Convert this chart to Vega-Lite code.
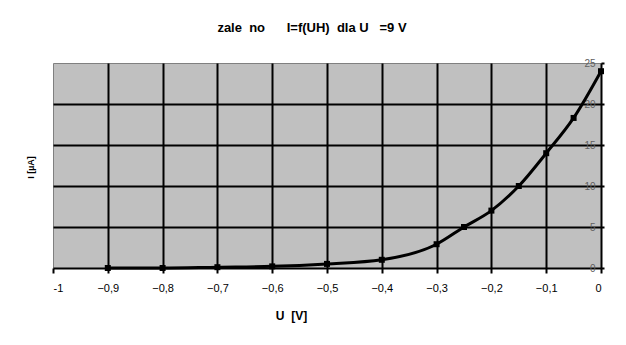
{
  "$schema": "https://vega.github.io/schema/vega-lite/v6.json",
  "width": 548,
  "height": 205,
  "autosize": {"type": "none"},
  "padding": {"left": 53, "top": 63, "right": 25, "bottom": 77},
  "background": "white",
  "title": {
    "text": "zale\u00a0\u00a0no\u00a0\u00a0\u00a0\u00a0\u00a0\u00a0I=f(UH)\u00a0\u00a0dla\u00a0U\u00a0\u00a0\u00a0=9\u00a0V",
    "font": "Liberation Sans",
    "fontSize": 13,
    "fontWeight": "bold",
    "color": "black",
    "dx": -15,
    "offset": 23
  },
  "data": {
    "values": [
      {"u": -0.9, "i": 0},
      {"u": -0.8, "i": 0},
      {"u": -0.7, "i": 0.1},
      {"u": -0.6, "i": 0.2},
      {"u": -0.5, "i": 0.5},
      {"u": -0.4, "i": 1},
      {"u": -0.3, "i": 2.9},
      {"u": -0.25, "i": 5},
      {"u": -0.2, "i": 7},
      {"u": -0.15, "i": 10},
      {"u": -0.1, "i": 14},
      {"u": -0.05, "i": 18.3},
      {"u": 0, "i": 24}
    ]
  },
  "config": {
    "view": {"fill": "#c0c0c0", "stroke": "#808080", "strokeWidth": 1},
    "font": "Liberation Sans"
  },
  "resolve": {"axis": {"x": "independent", "y": "independent"}},
  "layer": [
    {
      "mark": {"type": "point", "opacity": 0},
      "encoding": {
        "x": {
          "field": "u", "type": "quantitative",
          "scale": {"domain": [-1, 0], "nice": false, "zero": false},
          "axis": {
            "orient": "top", "values": [-0.9, -0.8, -0.7, -0.6, -0.5, -0.4, -0.3, -0.2, -0.1],
            "grid": true, "gridColor": "black", "gridWidth": 2, "gridOpacity": 1,
            "labels": false, "ticks": false, "domain": false, "title": null
          }
        },
        "y": {
          "field": "i", "type": "quantitative",
          "scale": {"domain": [0, 25], "nice": false},
          "axis": {
            "orient": "left", "values": [5, 10, 15, 20],
            "grid": true, "gridColor": "black", "gridWidth": 2, "gridOpacity": 1,
            "labels": false, "ticks": false, "domain": false, "title": null
          }
        }
      }
    },
    {
      "mark": {"type": "line", "color": "black", "strokeWidth": 3, "interpolate": "monotone"},
      "encoding": {
        "x": {
          "field": "u", "type": "quantitative",
          "axis": {
            "orient": "bottom", "values": [-1, -0.9, -0.8, -0.7, -0.6, -0.5, -0.4, -0.3, -0.2, -0.1, 0],
            "labelExpr": "datum.value == 0 ? '0' : datum.value == -1 ? '-1' : replace(format(datum.value, '.1f'), '.', ',')",
            "grid": false, "domainColor": "black", "domainWidth": 2,
            "tickColor": "black", "tickWidth": 2, "tickSize": 5,
            "labelFontSize": 11, "labelColor": "black", "labelPadding": 9,
            "title": "U\u00a0\u00a0[V]", "titleFontSize": 12, "titleFontWeight": "bold", "titleColor": "black",
            "titleX": 238, "titleY": 51, "titleBaseline": "alphabetic"
          }
        },
        "y": {
          "field": "i", "type": "quantitative",
          "axis": {
            "orient": "right", "values": [0, 5, 10, 15, 20, 25],
            "grid": false, "domainColor": "black", "domainWidth": 2,
            "tickColor": "black", "tickWidth": 2, "tickSize": 3,
            "labelFontSize": 10, "labelColor": "#606060", "labelPadding": -9, "labelAlign": "right",
            "title": "I [µA]", "titleFontSize": 9, "titleFontWeight": "bold", "titleColor": "black",
            "titleAngle": 270, "titleX": -571, "titleY": 104, "titleAlign": "center", "titleBaseline": "middle"
          }
        }
      }
    },
    {
      "mark": {"type": "point", "shape": "square", "filled": true, "color": "black", "size": 36, "opacity": 1},
      "encoding": {
        "x": {"field": "u", "type": "quantitative", "axis": null},
        "y": {"field": "i", "type": "quantitative", "axis": null}
      }
    }
  ]
}
